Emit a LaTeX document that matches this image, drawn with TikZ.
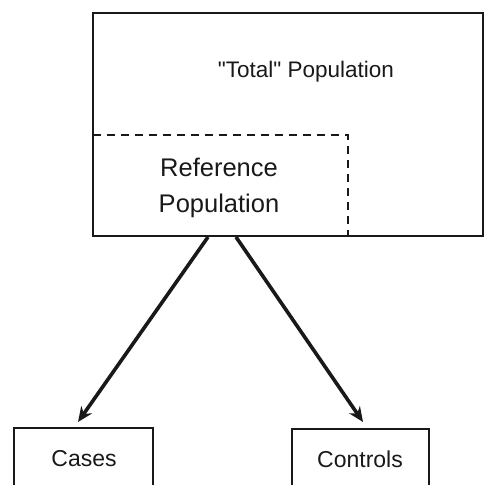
\documentclass[tikz,border=0pt]{standalone}
\usepackage{fontspec}
\setmainfont{Liberation Sans}[Ligatures=TeXOff]
\usetikzlibrary{arrows.meta}
\begin{document}
\begin{tikzpicture}[x=1pt,y=-1pt,
  ink/.style={draw=black!90},
  popbox/.style={ink,line width=2.5pt,rectangle,inner sep=0pt},
  groupbox/.style={ink,line width=2pt,rectangle,inner sep=0pt,minimum width=139pt,minimum height=64pt},
  label/.style={text=black!90,align=center,inner sep=0pt},
  flow/.style={ink,line width=3.6pt,-{Stealth[length=15pt,width=13pt]}},
  subset/.style={ink,line width=2pt,dash pattern=on 8pt off 6pt}
]
\useasboundingbox (0,0) rectangle (486,484);
% total population frame
\node[popbox,minimum width=390pt,minimum height=223pt] (total) at (288,124.5) {};
\node[label,font=\fontsize{22.5}{26}\selectfont] (totaltxt) at (306,72) {"Total" Population};
% reference population subset
\coordinate (r1) at (93,135);
\coordinate (r2) at (348,135);
\coordinate (r3) at (348,236);
\draw[subset] (r1) -- (r2) -- (r3);
\node[label,font=\fontsize{25.5}{36}\selectfont] (reftxt) at (219,188) {Reference\\Population};
% sampled groups
\node[groupbox] (cases) at (83.5,460) {};
\node[groupbox,minimum width=137pt] (controls) at (360.5,461) {};
\node[label,font=\fontsize{23}{27}\selectfont] (casestxt) at (84,459) {Cases};
\node[label,font=\fontsize{23}{27}\selectfont] (controlstxt) at (360,459) {Controls};
% sampling arrows
\coordinate (s1) at (208,237);
\coordinate (s2) at (236,237);
\coordinate (e1) at (78,422);
\coordinate (e2) at (363,422);
\draw[flow] (s1) -- (e1);
\draw[flow] (s2) -- (e2);
\end{tikzpicture}
\end{document}
